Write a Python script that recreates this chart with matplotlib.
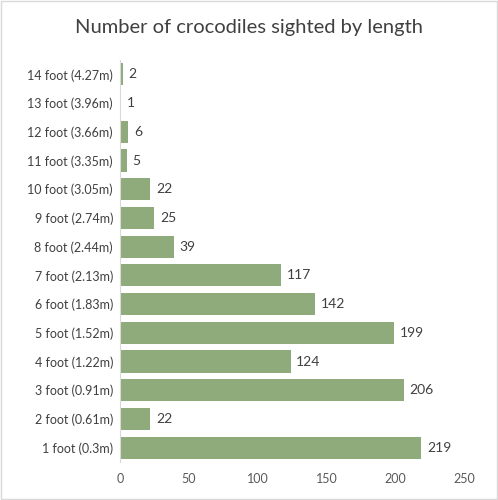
import matplotlib.pyplot as plt
from matplotlib.patches import Rectangle

labels = ["1 foot (0.3m)", "2 foot (0.61m)", "3 foot (0.91m)", "4 foot (1.22m)",
          "5 foot (1.52m)", "6 foot (1.83m)", "7 foot (2.13m)", "8 foot (2.44m)",
          "9 foot (2.74m)", "10 foot (3.05m)", "11 foot (3.35m)", "12 foot (3.66m)",
          "13 foot (3.96m)", "14 foot (4.27m)"]
counts = [219, 22, 206, 124, 199, 142, 117, 39, 25, 22, 5, 6, 1, 2]

plt.rcParams['font.family'] = ['Lato', 'DejaVu Sans']
fig = plt.figure(figsize=(4.98, 5.0), dpi=100)
ax = fig.add_axes([0.241, 0.076, 0.691, 0.804])

y = range(len(labels))
ax.barh(y, counts, height=0.77, color="#8faa7b")
for i, v in zip(y, counts):
    ax.text(v + 4, i, str(v), va="center", ha="left", fontsize=10, color="#404040")

ax.set_xlim(0, 250)
ax.set_ylim(-0.5, len(labels) - 0.5)
ax.set_yticks(list(y))
ax.set_yticklabels(labels, fontsize=9, color="#404040")
ax.set_xticks([0, 50, 100, 150, 200, 250])
ax.tick_params(axis="x", labelsize=9, colors="#595959", length=0, pad=8)
ax.tick_params(axis="y", length=0, pad=5)
for s in ["top", "right", "bottom"]:
    ax.spines[s].set_visible(False)
ax.spines["left"].set_color("#d9d9d9")

fig.text(0.5, 0.944, "Number of crocodiles sighted by length", ha="center",
         va="center", fontsize=14.5, color="#404040")
fig.patches.append(Rectangle((0.002, 0.002), 0.996, 0.996, transform=fig.transFigure,
                             fill=False, edgecolor="#d9d9d9", lw=1))
fig.savefig("out.png", dpi=100)
